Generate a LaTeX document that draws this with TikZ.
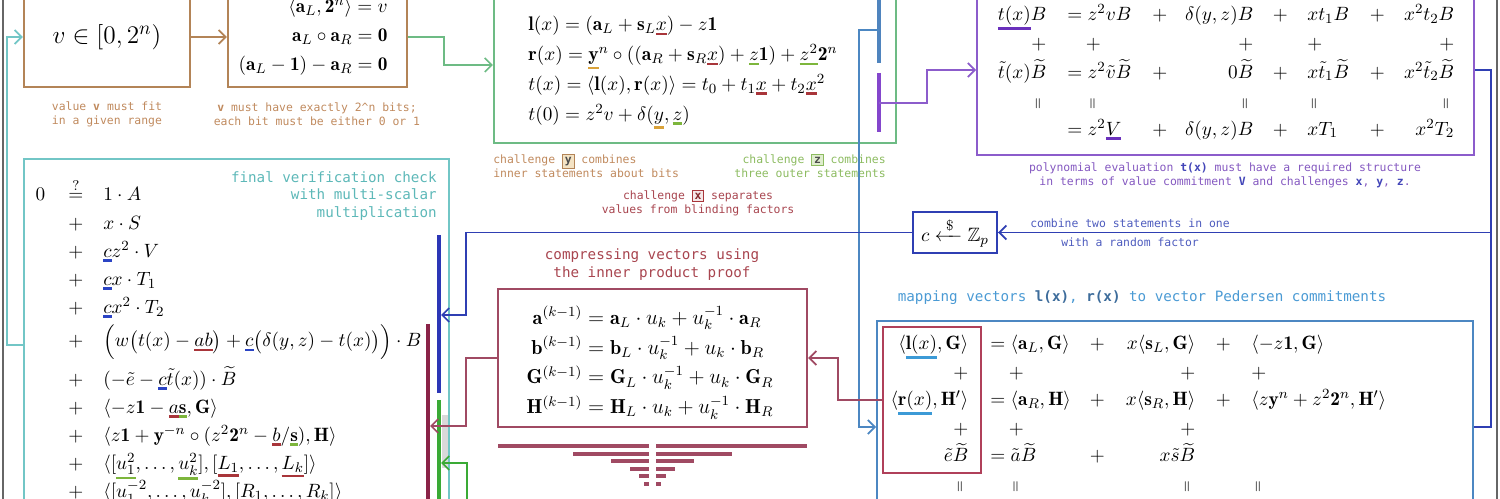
\documentclass[tikz,border=0pt]{standalone}
\usepackage{amsmath}
\usepackage{amssymb}
\usepackage{mathtools}
\usepackage{array}
\usepackage{graphicx}
\usepackage{fontspec}
\newfontfamily\capfont{DejaVu Sans Mono}
\usepackage{tikz}
\usepackage{xcolor}
\usetikzlibrary{arrows.meta}
\definecolor{bpbrown}{HTML}{B38457}
\definecolor{bpbrowntext}{HTML}{C08A5E}
\definecolor{bpgreen}{HTML}{6DBB84}
\definecolor{bpgreentext}{HTML}{8CBB60}
\definecolor{bpteal}{HTML}{72C6C6}
\definecolor{bptealtext}{HTML}{5DB8B8}
\definecolor{bppurple}{HTML}{8C5CCB}
\definecolor{bppurpletext}{HTML}{8458C0}
\definecolor{bpsteel}{HTML}{4C87C2}
\definecolor{bpsteeltext}{HTML}{4A9AD4}
\definecolor{bpindigo}{HTML}{2F3FB3}
\definecolor{bpmaroon}{HTML}{A04A63}
\definecolor{bpmaroontext}{HTML}{A8454F}
\definecolor{bpredbox}{HTML}{B0405A}
\definecolor{barsteel}{HTML}{4F84BE}
\definecolor{barpurple}{HTML}{8446CC}
\definecolor{barblue}{HTML}{2C36B6}
\definecolor{barmaroon}{HTML}{8A2348}
\definecolor{bargreen}{HTML}{3AAA35}
\definecolor{ulx}{HTML}{A8353A}
\definecolor{uly}{HTML}{D9A23A}
\definecolor{ulz}{HTML}{7DB63C}
\definecolor{ulc}{HTML}{2B44C4}
\definecolor{ulp}{HTML}{6A30BC}
\definecolor{ull}{HTML}{3C9AD6}
\setlength{\fboxsep}{1pt}
\setlength{\fboxrule}{0.6pt}
\newcommand{\hl}[2]{\mathord{\setbox0=\hbox{$#2$}\rlap{\textcolor{#1}{\rule[\dimexpr-\dp0-2.6pt\relax]{\wd0}{1.5pt}}}\box0}}
\newcommand{\veq}{\makebox[0.78em][c]{\rotatebox[origin=c]{90}{$\scriptstyle=$}}}
\newcommand{\sh}{\hspace{0.37cm}}
\newcommand{\chk}[3]{\makebox[0.32cm][c]{${#1}$}\makebox[1.1cm][c]{${#2}$}${#3}$}
\newcommand{\chbox}[3]{\fcolorbox{#1}{#2}{\bfseries #3}}
\tikzset{
  boxBase/.style={line width=1.2pt, inner sep=0pt},
  brownBox/.style={boxBase, draw=bpbrown},
  greenBox/.style={boxBase, draw=bpgreen},
  purpleBox/.style={boxBase, draw=bppurple},
  tealBox/.style={boxBase, draw=bpteal},
  steelBox/.style={boxBase, draw=bpsteel},
  maroonBox/.style={boxBase, draw=bpmaroon},
  redBox/.style={boxBase, draw=bpredbox},
  indigoBox/.style={boxBase, draw=bpindigo},
  eqText/.style={inner sep=0pt, align=left},
  capNote/.style={font=\capfont\fontsize{6.5}{8}\selectfont, align=center, inner sep=0pt},
  capTitle/.style={font=\capfont\fontsize{8.1}{9.8}\selectfont, align=center, inner sep=0pt},
  linkArrow/.style={line width=1pt, -{Straight Barb[length=1.4mm,width=2.8mm]}},
  linkLine/.style={line width=1pt},
  brownArrow/.style={linkArrow, draw=bpbrown},
  greenArrow/.style={linkArrow, draw=bpgreen},
  tealArrow/.style={linkArrow, draw=bpteal},
  purpleArrow/.style={linkArrow, draw=bppurple},
  steelArrow/.style={linkArrow, draw=bpsteel},
  indigoArrow/.style={linkArrow, draw=bpindigo},
  indigoLine/.style={linkLine, draw=bpindigo},
  maroonArrow/.style={linkArrow, draw=bpmaroon},
  uArrow/.style={linkArrow, draw=bargreen},
  barLine/.style={line width=0.09cm},
  frameLine/.style={draw=black!60, line width=0.03cm}
}
\begin{document}
\begin{tikzpicture}[x=0.02cm,y=-0.02cm]
  \useasboundingbox (0,0) rectangle (1500,499);
  \draw[frameLine] (3,0) -- (3,499);
  \draw[frameLine] (1497,0) -- (1497,499);

  % range statement and bits
  \node[brownBox, minimum width=3.32cm, minimum height=2cm, font=\fontsize{15}{18}\selectfont] (vbox) at (107,37) {$v\in[0,2^n)$};
  \node[brownBox, minimum width=3.58cm, minimum height=2cm] (bitsbox) at (317.5,37) {};
  \node[inner sep=0pt, anchor=east, font=\fontsize{11}{16.4}\selectfont] (bitseqs) at (388,36)
    {$\begin{array}{@{}r@{}}
      \langle\mathbf{a}_L,\mathbf{2}^n\rangle=v\\
      \mathbf{a}_L\circ\mathbf{a}_R=\mathbf{0}\\
      (\mathbf{a}_L-\mathbf{1})-\mathbf{a}_R=\mathbf{0}
    \end{array}$};
  \node[capNote, text=bpbrowntext] (vcap) at (107,114) {value {\bfseries v} must fit\\in a given range};
  \node[capNote, text=bpbrowntext] (bitscap) at (317,114) {{\bfseries v} must have exactly 2\textasciicircum n bits;\\each bit must be either 0 or 1};
  \draw[brownArrow] (vbox) -- (bitsbox);

  % polynomials l, r, t
  \node[greenBox, minimum width=8.04cm, minimum height=3.12cm] (greenbox) at (695,65) {};
  \node[eqText, anchor=north west, font=\fontsize{11.2}{17}\selectfont] (greeneqs) at (528,16)
    {$\mathbf{l}(x)=(\mathbf{a}_L+\mathbf{s}_L\hl{ulx}{x})-z\mathbf{1}$\\
     $\mathbf{r}(x)=\hl{uly}{\mathbf{y}}^n\circ((\mathbf{a}_R+\mathbf{s}_R\hl{ulx}{x})+\hl{ulz}{z}\mathbf{1})+\hl{ulz}{z^2}\mathbf{2}^n$\\
     $t(x)=\langle\mathbf{l}(x),\mathbf{r}(x)\rangle=t_0+t_1\hl{ulx}{x}+t_2\hl{ulx}{x}^2$\\
     $t(0)=z^2v+\delta(\hl{uly}{y},\hl{ulz}{z})$};
  \draw[barLine, barsteel] (879,-5) -- (879,63);
  \draw[barLine, barpurple] (879,73) -- (879,132);
  \coordinate (lbar) at (879,30);
  \coordinate (tbar) at (879,103);
  \node[capNote, text=bpbrowntext, anchor=west, align=left] (ycap) at (493,166)
    {challenge \chbox{bpbrown}{uly!30}{\textcolor{black!70}{y}} combines\\inner statements about bits};
  \node[capNote, text=bpgreentext, anchor=east, align=right] (zcap) at (886,166)
    {challenge \chbox{bpgreentext}{ulz!25}{\textcolor{black!70}{z}} combines\\three outer statements};
  \node[capNote, text=bpmaroontext] (xcap) at (698,203)
    {challenge \chbox{ulx}{ulx!12}{\textcolor{ulx!80!black}{x}} separates\\values from blinding factors};
  \draw[greenArrow] (bitsbox.east) -- ++(36,0) |- (greenbox.west);

  % structure of t(x)
  \node[purpleBox, minimum width=9.94cm, minimum height=3.4cm] (purplebox) at (1225.5,70) {};
  \node[inner sep=0pt, anchor=west, font=\fontsize{11}{16.2}\selectfont] (purpleeqs) at (990,72)
    {\arraycolsep=0pt$\begin{array}{@{}w{r}{1.12cm}@{\hspace{0.42cm}}w{l}{1.7cm}w{c}{0.3cm}w{r}{1.72cm}w{c}{1.08cm}w{l}{1.1cm}w{c}{0.6cm}w{r}{1.24cm}@{}}
      \hl{ulp}{t(x)}B & =z^2vB & + & \delta(y,z)B & + & xt_1B & + & x^2t_2B\\
      + & \sh+ & & + & & + & & +\\
      \tilde{t}(x)\widetilde{B} & =z^2\tilde{v}\widetilde{B} & + & 0\widetilde{B} & + & x\tilde{t}_1\widetilde{B} & + & x^2\tilde{t}_2\widetilde{B}\\
      \veq & \sh\veq & & \veq & & \veq & & \veq\\
       & =z^2\hl{ulp}{V} & + & \delta(y,z)B & + & xT_1 & + & x^2T_2
    \end{array}$};
  \node[capNote, text=bppurpletext] (pcap) at (1225,175)
    {polynomial evaluation \textcolor{bpindigo!80!bppurple}{\bfseries t(x)} must have a required structure\\in terms of value commitment \textcolor{bpindigo!80!bppurple}{\bfseries V} and challenges \textcolor{bpindigo!80!bppurple}{\bfseries x}, \textcolor{bpindigo!80!bppurple}{\bfseries y}, \textcolor{bpindigo!80!bppurple}{\bfseries z}.};
  \draw[purpleArrow] (tbar) -- ++(48,0) |- (purplebox.west);

  % random factor c
  \node[indigoBox, minimum width=1.68cm, minimum height=0.82cm, font=\fontsize{11}{13}\selectfont] (cbox) at (955,232.5) {$c\xleftarrow{\;\$\;}\mathbb{Z}_p$};
  \node[capNote, text=bpindigo!85, font=\capfont\fontsize{6.5}{10.8}\selectfont] (ccap) at (1130,232.5) {combine two statements in one\\with a random factor};

  % vector commitments
  \node[capTitle, text=bpsteeltext] (maptitle) at (1142,298)
    {mapping vectors \textcolor{bpsteel!80!black}{\bfseries l(x)}, \textcolor{bpsteel!80!black}{\bfseries r(x)} to vector Pedersen commitments};
  \node[steelBox, minimum width=11.92cm, minimum height=4.24cm] (mapbox) at (1175,427) {};
  \node[redBox, minimum width=1.96cm, minimum height=2.92cm] (redbox) at (932,400) {};
  \node[inner sep=0pt, anchor=west, font=\fontsize{11}{15.7}\selectfont] (mapeqs) at (885,414)
    {\arraycolsep=0pt$\begin{array}{@{}w{r}{1.66cm}@{\hspace{0.44cm}}w{l}{1.84cm}w{c}{0.6cm}w{r}{1.66cm}w{c}{1.12cm}w{l}{3cm}@{}}
      \langle\hl{ull}{\mathbf{l}(x)},\mathbf{G}\rangle & =\langle\mathbf{a}_L,\mathbf{G}\rangle & + & x\langle\mathbf{s}_L,\mathbf{G}\rangle & + & \langle -z\mathbf{1},\mathbf{G}\rangle\\
      + & \sh+ & & + & & +\\
      \langle\hl{ull}{\mathbf{r}(x)},\mathbf{H}'\rangle & =\langle\mathbf{a}_R,\mathbf{H}\rangle & + & x\langle\mathbf{s}_R,\mathbf{H}\rangle & + & \langle z\mathbf{y}^n+z^2\mathbf{2}^n,\mathbf{H}'\rangle\\
      + & \sh+ & & + & & \\
      \tilde{e}\widetilde{B} & =\tilde{a}\widetilde{B} & + & x\tilde{s}\widetilde{B} & & \\
      \veq & \sh\veq & & \veq & & \veq
    \end{array}$};
  \draw[steelArrow] (lbar) -- ++(-20,0) |- (mapbox.west);
  \draw[indigoLine] (purplebox.east) -- ++(16,0) |- (cbox.east);
  \draw[indigoArrow] (mapbox.east) -- ++(17,0) |- (cbox.east);

  % inner product proof
  \node[capTitle, text=bpmaroontext] (ipptitle) at (652,264.5) {compressing vectors using\\the inner product proof};
  \node[maroonBox, minimum width=6.18cm, minimum height=2.76cm] (ippbox) at (652.5,358) {};
  \node[inner sep=0pt, font=\fontsize{11.5}{17}\selectfont] (ippeqs) at (650,363)
    {$\begin{array}{@{}r@{}l@{}}
      \mathbf{a}^{(k-1)} & {}=\mathbf{a}_L\cdot u_k+u_k^{-1}\cdot\mathbf{a}_R\\
      \mathbf{b}^{(k-1)} & {}=\mathbf{b}_L\cdot u_k^{-1}+u_k\cdot\mathbf{b}_R\\
      \mathbf{G}^{(k-1)} & {}=\mathbf{G}_L\cdot u_k^{-1}+u_k\cdot\mathbf{G}_R\\
      \mathbf{H}^{(k-1)} & {}=\mathbf{H}_L\cdot u_k+u_k^{-1}\cdot\mathbf{H}_R
    \end{array}$};
  \foreach \i/\w in {0/151,1/76,2/38,3/19,4/10,5/5}{
    \fill[bpmaroon] (649-\w,444+7.6*\i) rectangle (649,448+7.6*\i);
    \fill[bpmaroon] (656,444+7.6*\i) rectangle (656+\w,448+7.6*\i);
  }
  \draw[maroonArrow] (redbox.west) -- ++(-44,0) |- (ippbox.east);

  % final check
  \node[tealBox, minimum width=8.5cm, minimum height=7.44cm] (finalbox) at (236.5,345) {};
  \node[capTitle, text=bptealtext, anchor=east, align=right] (finaltitle) at (437,196) {final verification check\\with multi-scalar\\multiplication};
  \node[eqText, anchor=north west, font=\fontsize{11}{16}\selectfont] (checkeqs) at (32,178)
    {\chk{0}{\stackrel{?}{=}}{1\cdot A}\\
     \chk{}{+}{x\cdot S}\\
     \chk{}{+}{\hl{ulc}{c}z^2\cdot V}\\
     \chk{}{+}{\hl{ulc}{c}x\cdot T_1}\\
     \chk{}{+}{\hl{ulc}{c}x^2\cdot T_2}\\[3pt]
     \chk{}{+}{\Bigl(w\bigl(t(x)-\hl{ulx}{a}\hl{ulx}{b}\bigr)+\hl{ulc}{c}\bigl(\delta(y,z)-t(x)\bigr)\Bigr)\cdot B}\\[3pt]
     \chk{}{+}{(-\tilde{e}-\hl{ulc}{c}\tilde{t}(x))\cdot\widetilde{B}}\\
     \chk{}{+}{\langle -z\mathbf{1}-\hl{ulx}{a}\hl{ulz}{\mathbf{s}},\mathbf{G}\rangle}\\
     \chk{}{+}{\langle z\mathbf{1}+\mathbf{y}^{-n}\circ(z^2\mathbf{2}^n-\hl{ulx}{b}/\hl{ulz}{\mathbf{s}}),\mathbf{H}\rangle}\\
     \chk{}{+}{\langle[\hl{ulz}{u_1^2},\dots,\hl{ulz}{u_k^2}],[\hl{ulx}{L_1},\dots,\hl{ulx}{L_k}]\rangle}\\
     \chk{}{+}{\langle[\hl{ulz}{u_1^{-2}},\dots,\hl{ulz}{u_k^{-2}}],[\hl{ulx}{R_1},\dots,\hl{ulx}{R_k}]\rangle}};
  \fill[black!15] (442,415) rectangle (448,468);
  \draw[barLine, barblue] (439,235) -- (439,393);
  \draw[barLine, barmaroon] (428,324) -- (428,510);
  \draw[barLine, bargreen] (439,400) -- (439,510);
  \coordinate (cbar) at (441,315);
  \coordinate (abbar) at (430,426);
  \coordinate (ubar) at (441,463);
  \coordinate (ippout) at (467,510);
  \draw[indigoArrow] (cbox.west) -- ++(-446,0) |- (cbar);
  \draw[maroonArrow] (ippbox.west) -- ++(-31,0) |- (abbar);
  \draw[uArrow] (ippout) |- (ubar);
  \draw[tealArrow] (finalbox.west) -- ++(-16,0) |- (vbox.west);
\end{tikzpicture}
\end{document}
